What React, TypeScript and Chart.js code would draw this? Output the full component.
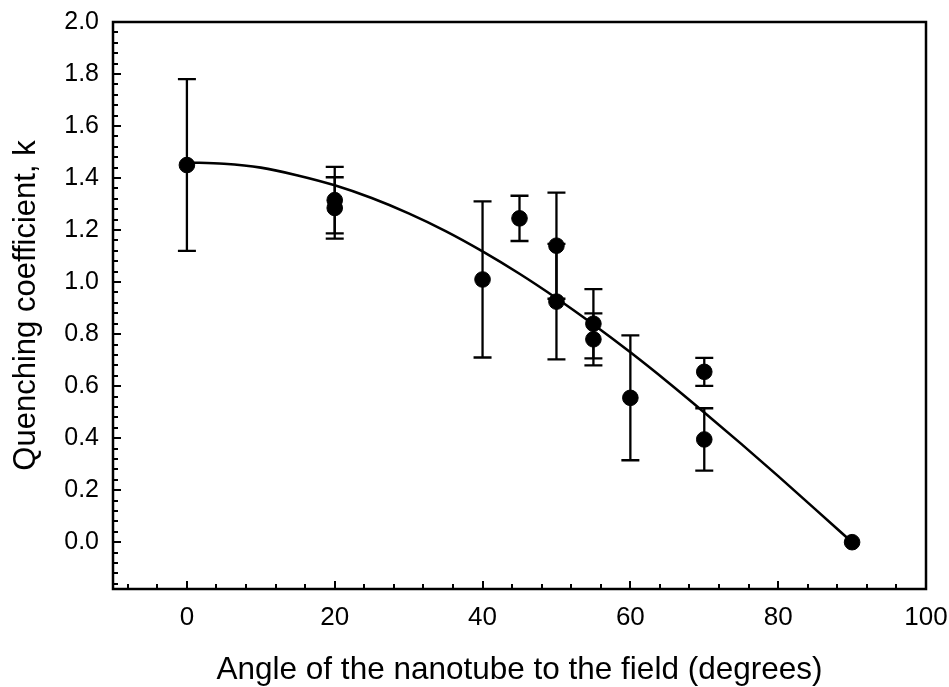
import { useEffect, useRef } from "react";
import { Chart, registerables } from "chart.js";

Chart.register(...registerables);

// Measured data (angle in degrees, quenching coefficient k, +/- error)
const angles = [0, 20, 20, 40, 45, 50, 50, 55, 55, 60, 70, 70, 90];
const kValues = [1.45, 1.315, 1.285, 1.01, 1.245, 1.14, 0.925, 0.84, 0.78, 0.555, 0.655, 0.395, 0.0];
const kErrors = [0.33, 0.128, 0.118, 0.3, 0.087, 0.204, 0.222, 0.133, 0.1, 0.24, 0.054, 0.12, 0];

// Fitted curve
const fitAngles = [0, 5, 10, 15, 20, 25, 30, 35, 40, 45, 50, 55, 60, 65, 70, 75, 80, 85, 90];
const fitK = [1.46, 1.455, 1.44, 1.41, 1.372, 1.323, 1.264, 1.196, 1.118, 1.032, 0.938, 0.837, 0.73, 0.617, 0.499, 0.378, 0.254, 0.127, 0.0];

// Axis ticks
const xTickLabels = [0, 20, 40, 60, 80, 100];
const yTickLabels = [0, 0.2, 0.4, 0.6, 0.8, 1.0, 1.2, 1.4, 1.6, 1.8, 2.0];
const X_MIN = -10;
const X_MAX = 100;
const Y_MIN = -0.18;
const Y_MAX = 2.0;
const X_MINOR = 4;
const Y_MINOR = 0.04;

const FONT = "'Liberation Sans', Arial, Helvetica, sans-serif";

const errorBarPlugin = {
  id: "errorBars",
  beforeDatasetsDraw(chart: any) {
    const { ctx } = chart;
    const x = chart.scales.x;
    const y = chart.scales.y;
    ctx.save();
    ctx.strokeStyle = "#000";
    ctx.lineWidth = 2.3;
    angles.forEach((a, i) => {
      const e = kErrors[i];
      if (!e) return;
      const px = x.getPixelForValue(a);
      const top = y.getPixelForValue(kValues[i] + e);
      const bot = y.getPixelForValue(kValues[i] - e);
      ctx.beginPath();
      ctx.moveTo(px, top);
      ctx.lineTo(px, bot);
      ctx.moveTo(px - 9, top);
      ctx.lineTo(px + 9, top);
      ctx.moveTo(px - 9, bot);
      ctx.lineTo(px + 9, bot);
      ctx.stroke();
    });
    ctx.restore();
  },
};

const framePlugin = {
  id: "frame",
  afterDraw(chart: any) {
    const { ctx, chartArea } = chart;
    const x = chart.scales.x;
    const y = chart.scales.y;
    const { left, right, top, bottom } = chartArea;
    ctx.save();
    ctx.strokeStyle = "#000";
    ctx.lineWidth = 2.5;
    ctx.strokeRect(left, top, right - left, bottom - top);
    ctx.lineWidth = 2;
    ctx.beginPath();
    for (let n = Math.ceil(X_MIN / X_MINOR); n * X_MINOR <= X_MAX + 1e-9; n++) {
      const v = n * X_MINOR;
      const major = xTickLabels.some((t) => Math.abs(t - v) < 1e-6);
      const px = Math.round(x.getPixelForValue(v));
      const len = major ? 8 : 5;
      ctx.moveTo(px, bottom);
      ctx.lineTo(px, bottom - len);
    }
    xTickLabels.forEach((t) => {
      const px = Math.round(x.getPixelForValue(t));
      ctx.moveTo(px, bottom);
      ctx.lineTo(px, bottom - 8);
    });
    for (let n = Math.ceil(Y_MIN / Y_MINOR - 1e-9); n * Y_MINOR <= Y_MAX + 1e-9; n++) {
      const v = n * Y_MINOR;
      const major = yTickLabels.some((t) => Math.abs(t - v) < 1e-6);
      const py = Math.round(y.getPixelForValue(v));
      const len = major ? 8 : 5;
      ctx.moveTo(left, py);
      ctx.lineTo(left + len, py);
    }
    ctx.stroke();
    ctx.restore();
  },
};

export default function App() {
  const canvasRef = useRef<HTMLCanvasElement | null>(null);

  useEffect(() => {
    const canvas = canvasRef.current;
    if (!canvas) return;
    const chart = new Chart(canvas, {
      type: "scatter",
      data: {
        datasets: [
          {
            label: "fit",
            data: fitAngles.map((a, i) => ({ x: a, y: fitK[i] })),
            showLine: true,
            borderColor: "#000",
            borderWidth: 2.6,
            pointRadius: 0,
            cubicInterpolationMode: "monotone",
            order: 2,
          } as any,
          {
            label: "k",
            data: angles.map((a, i) => ({ x: a, y: kValues[i] })),
            showLine: false,
            backgroundColor: "#000",
            borderColor: "#000",
            borderWidth: 1,
            pointRadius: 7.8,
            order: 1,
          },
        ],
      },
      options: {
        animation: false,
        responsive: true,
        maintainAspectRatio: false,
        layout: { padding: { left: 0, right: 23, top: 22, bottom: 0 } },
        plugins: {
          legend: { display: false },
          tooltip: { enabled: false },
        },
        scales: {
          x: {
            type: "linear",
            min: X_MIN,
            max: X_MAX,
            afterBuildTicks: (s: any) => {
              s.ticks = xTickLabels.map((v) => ({ value: v }));
            },
            afterFit: (s: any) => {
              s.height = 98;
              s.paddingLeft = 0;
              s.paddingRight = 0;
            },
            grid: { display: false, drawTicks: false },
            border: { display: false },
            ticks: {
              color: "#000",
              padding: 13,
              maxRotation: 0,
              font: { family: FONT, size: 26 },
              callback: (v: any) => String(v),
            },
            title: {
              display: true,
              text: "Angle of the nanotube to the field (degrees)",
              color: "#000",
              font: { family: FONT, size: 31.5, lineHeight: 1 },
              padding: { top: 0, bottom: 1 },
            },
          },
          y: {
            type: "linear",
            min: Y_MIN,
            max: Y_MAX,
            afterBuildTicks: (s: any) => {
              s.ticks = yTickLabels.map((v) => ({ value: v }));
            },
            afterFit: (s: any) => {
              s.width = 113;
              s.paddingTop = 0;
              s.paddingBottom = 0;
            },
            grid: { display: false, drawTicks: false },
            border: { display: false },
            ticks: {
              color: "#000",
              padding: 14,
              font: { family: FONT, size: 25 },
              callback: (v: any) => Number(v).toFixed(1),
            },
            title: {
              display: true,
              text: "Quenching coefficient, k",
              color: "#000",
              font: { family: FONT, size: 31, lineHeight: 1 },
              padding: { top: 11, bottom: 0 },
            },
          },
        },
      },
      plugins: [errorBarPlugin, framePlugin],
    });
    return () => chart.destroy();
  }, []);

  return (
    <div
      style={{
        position: "fixed",
        left: 0,
        top: 0,
        width: "949px",
        height: "687px",
        background: "#fff",
      }}
    >
      <canvas ref={canvasRef} />
    </div>
  );
}
